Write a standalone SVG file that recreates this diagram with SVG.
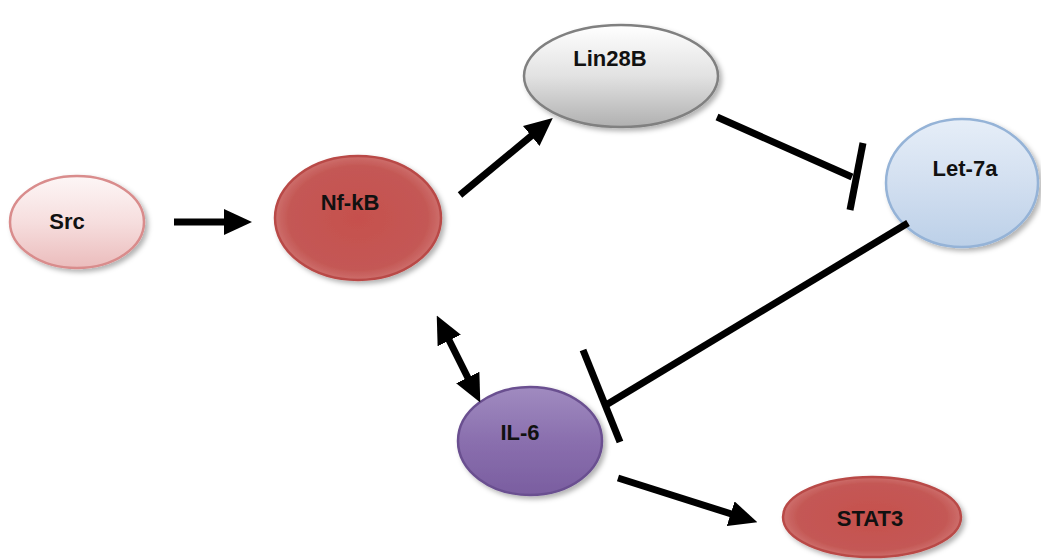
<svg xmlns="http://www.w3.org/2000/svg" width="1041" height="560" viewBox="0 0 1041 560">
<style>
.lbl{font-family:"Liberation Sans",Arial,sans-serif;font-weight:bold;font-size:22px;fill:#111;text-anchor:middle}
.edge{stroke:#000;stroke-width:7;fill:none;stroke-linecap:butt}
.node ellipse{stroke-width:2.5}
</style>
<defs>
<filter id="sh" x="-20%" y="-20%" width="150%" height="150%">
<feDropShadow dx="3" dy="3" stdDeviation="2.5" flood-color="#000" flood-opacity="0.3"/>
</filter>
<linearGradient id="gSrc" x1="0" y1="0" x2="0" y2="1">
<stop offset="0" stop-color="#fdf6f6"/><stop offset="0.5" stop-color="#f6dede"/><stop offset="1" stop-color="#ebbcbc"/>
</linearGradient>
<radialGradient id="gRed" cx="0.5" cy="0.5" r="0.6">
<stop offset="0" stop-color="#c6504d"/><stop offset="0.7" stop-color="#c45855"/><stop offset="1" stop-color="#d98a88"/>
</radialGradient>
<linearGradient id="gGray" x1="0" y1="0" x2="0" y2="1">
<stop offset="0" stop-color="#ffffff"/><stop offset="0.5" stop-color="#e2e2e2"/><stop offset="1" stop-color="#b0b0b0"/>
</linearGradient>
<linearGradient id="gBlue" x1="0" y1="0" x2="0" y2="1">
<stop offset="0" stop-color="#e6eef8"/><stop offset="0.5" stop-color="#d2dff0"/><stop offset="1" stop-color="#bcd0e8"/>
</linearGradient>
<linearGradient id="gPurple" x1="0" y1="0" x2="0" y2="1">
<stop offset="0" stop-color="#a08bc0"/><stop offset="0.5" stop-color="#8a6fae"/><stop offset="1" stop-color="#7a5ea0"/>
</linearGradient>
<marker id="ah" markerUnits="userSpaceOnUse" markerWidth="28" markerHeight="26" viewBox="0 0 28 26" refX="14" refY="13" orient="auto-start-reverse">
<path d="M0,0 L28,13 L0,26 z" fill="#000"/>
</marker>
</defs>

<g id="src" class="node">
<ellipse cx="77" cy="222" rx="67" ry="46" fill="url(#gSrc)" stroke="#d98c8c" filter="url(#sh)"/>
<text class="lbl" x="67" y="229">Src</text>
</g>
<g id="nfkb" class="node">
<ellipse cx="358" cy="218" rx="83" ry="62" fill="url(#gRed)" stroke="#b94a47" filter="url(#sh)"/>
<text class="lbl" x="350" y="210">Nf-kB</text>
</g>
<g id="lin28b" class="node">
<ellipse cx="621" cy="76" rx="97" ry="51" fill="url(#gGray)" stroke="#808080" filter="url(#sh)"/>
<text class="lbl" x="610" y="66">Lin28B</text>
</g>
<g id="let7a" class="node">
<ellipse cx="962" cy="183" rx="76" ry="64" fill="url(#gBlue)" stroke="#95b3d7" filter="url(#sh)"/>
<text class="lbl" x="965" y="176">Let-7a</text>
</g>
<g id="il6" class="node">
<ellipse cx="530" cy="441" rx="72" ry="54" fill="url(#gPurple)" stroke="#6a5090" filter="url(#sh)"/>
<text class="lbl" x="520" y="440">IL-6</text>
</g>
<g id="stat3" class="node">
<ellipse cx="872" cy="517" rx="89" ry="40" fill="url(#gRed)" stroke="#b94a47" filter="url(#sh)"/>
<text class="lbl" x="870" y="526">STAT3</text>
</g>

<g id="connectors">
<line class="edge" x1="174" y1="222" x2="238" y2="222" marker-end="url(#ah)"/>
<line class="edge" x1="460" y1="195" x2="542" y2="127" marker-end="url(#ah)"/>
<line class="edge" x1="717" y1="117" x2="852" y2="177"/>
<line class="edge" x1="863" y1="143" x2="850" y2="210"/>
<line class="edge" x1="443" y1="328" x2="474" y2="390" marker-start="url(#ah)" marker-end="url(#ah)"/>
<line class="edge" x1="908" y1="223" x2="606" y2="405"/>
<line class="edge" x1="583" y1="350" x2="620" y2="442"/>
<line class="edge" x1="618" y1="478" x2="744" y2="518" marker-end="url(#ah)"/>
</g>
</svg>
